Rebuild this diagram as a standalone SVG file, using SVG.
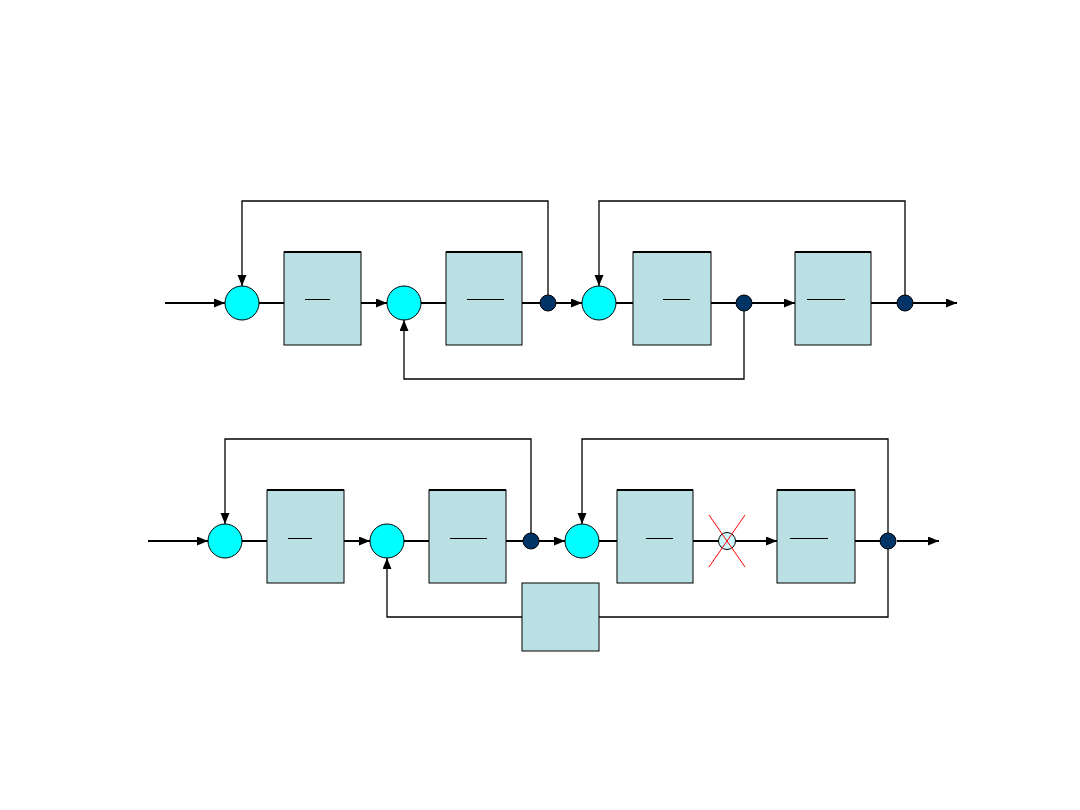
<svg xmlns="http://www.w3.org/2000/svg" width="1080" height="810" viewBox="0 0 1080 810">
<style>
.main{stroke:#000;stroke-width:2;fill:none}
.fb{stroke:#000;stroke-width:1.3;fill:none}
.blk{fill:#bbe0e3;stroke:#000;stroke-width:1}
.top{stroke:#000;stroke-width:2.2}
.frac{stroke:#000;stroke-width:1}
.sum{fill:#00ffff;stroke:#000;stroke-width:1}
.dot{fill:#003366;stroke:#000;stroke-width:1}
</style>
<defs>
<marker id="arr" markerUnits="userSpaceOnUse" markerWidth="12" markerHeight="10" refX="11" refY="4.5" orient="auto">
<path d="M0,0 L11,4.5 L0,9 z" fill="#000"/>
</marker>
</defs>
<rect width="1080" height="810" fill="#fff"/>
<g id="connectors">
<line class="main" x1="165" y1="303" x2="225" y2="303" marker-end="url(#arr)"/>
<line class="main" x1="259" y1="303" x2="284" y2="303"/>
<line class="main" x1="361" y1="303" x2="387" y2="303" marker-end="url(#arr)"/>
<line class="main" x1="421" y1="303" x2="446" y2="303"/>
<line class="main" x1="522" y1="303" x2="540" y2="303"/>
<line class="main" x1="556" y1="303" x2="582" y2="303" marker-end="url(#arr)"/>
<line class="main" x1="616" y1="303" x2="633" y2="303"/>
<line class="main" x1="711" y1="303" x2="736" y2="303"/>
<line class="main" x1="752" y1="303" x2="795" y2="303" marker-end="url(#arr)"/>
<line class="main" x1="871" y1="303" x2="897" y2="303"/>
<line class="main" x1="913" y1="303" x2="957" y2="303" marker-end="url(#arr)"/>
<polyline class="fb" points="548,295 548,201 242,201 242,286" marker-end="url(#arr)"/>
<polyline class="fb" points="905,295 905,201 599,201 599,286" marker-end="url(#arr)"/>
<polyline class="fb" points="744,311 744,379 404,379 404,320" marker-end="url(#arr)"/>
<line class="main" x1="148" y1="541" x2="208" y2="541" marker-end="url(#arr)"/>
<line class="main" x1="242" y1="541" x2="267" y2="541"/>
<line class="main" x1="344" y1="541" x2="370" y2="541" marker-end="url(#arr)"/>
<line class="main" x1="404" y1="541" x2="429" y2="541"/>
<line class="main" x1="506" y1="541" x2="523" y2="541"/>
<line class="main" x1="539" y1="541" x2="565" y2="541" marker-end="url(#arr)"/>
<line class="main" x1="599" y1="541" x2="617" y2="541"/>
<line class="main" x1="693" y1="541" x2="719" y2="541"/>
<line class="main" x1="735" y1="541" x2="777" y2="541" marker-end="url(#arr)"/>
<line class="main" x1="855" y1="541" x2="881" y2="541"/>
<line class="main" x1="897" y1="541" x2="939" y2="541" marker-end="url(#arr)"/>
<polyline class="fb" points="531,533 531,439 225,439 225,524" marker-end="url(#arr)"/>
<polyline class="fb" points="888,533 888,439 582,439 582,524" marker-end="url(#arr)"/>
<polyline class="fb" points="888,549 888,617 599,617"/>
<polyline class="fb" points="522,617 387,617 387,558" marker-end="url(#arr)"/>
</g>
<g id="sum1"><circle class="sum" cx="242" cy="303" r="17"/></g>
<g id="block1"><rect class="blk" x="284" y="252" width="77" height="93"/><line class="top" x1="284" y1="252" x2="361" y2="252"/><line class="frac" x1="305" y1="299.5" x2="330" y2="299.5"/></g>
<g id="sum2"><circle class="sum" cx="404" cy="303" r="17"/></g>
<g id="block2"><rect class="blk" x="446" y="252" width="76" height="93"/><line class="top" x1="446" y1="252" x2="522" y2="252"/><line class="frac" x1="467" y1="299.5" x2="504" y2="299.5"/></g>
<g id="dot1"><circle class="dot" cx="548" cy="303" r="8"/></g>
<g id="sum3"><circle class="sum" cx="599" cy="303" r="17"/></g>
<g id="block3"><rect class="blk" x="633" y="252" width="78" height="93"/><line class="top" x1="633" y1="252" x2="711" y2="252"/><line class="frac" x1="663" y1="299.5" x2="690" y2="299.5"/></g>
<g id="dot2"><circle class="dot" cx="744" cy="303" r="8"/></g>
<g id="block4"><rect class="blk" x="795" y="252" width="76" height="93"/><line class="top" x1="795" y1="252" x2="871" y2="252"/><line class="frac" x1="807" y1="299.5" x2="845" y2="299.5"/></g>
<g id="dot3"><circle class="dot" cx="905" cy="303" r="8"/></g>
<g id="sum4"><circle class="sum" cx="225" cy="541" r="17"/></g>
<g id="block5"><rect class="blk" x="267" y="490" width="77" height="93"/><line class="top" x1="267" y1="490" x2="344" y2="490"/><line class="frac" x1="288" y1="538.5" x2="312" y2="538.5"/></g>
<g id="sum5"><circle class="sum" cx="387" cy="541" r="17"/></g>
<g id="block6"><rect class="blk" x="429" y="490" width="77" height="93"/><line class="top" x1="429" y1="490" x2="506" y2="490"/><line class="frac" x1="450" y1="538.5" x2="487" y2="538.5"/></g>
<g id="dot4"><circle class="dot" cx="531" cy="541" r="8"/></g>
<g id="sum6"><circle class="sum" cx="582" cy="541" r="17"/></g>
<g id="block7"><rect class="blk" x="617" y="490" width="76" height="93"/><line class="top" x1="617" y1="490" x2="693" y2="490"/><line class="frac" x1="646" y1="538.5" x2="673" y2="538.5"/></g>
<g id="cut"><circle cx="727" cy="541" r="8.5" fill="#ccffff" stroke="#000" stroke-width="1"/><line x1="709" y1="515" x2="745" y2="567" stroke="#ff0000" stroke-width="1"/><line x1="745" y1="515" x2="709" y2="567" stroke="#ff0000" stroke-width="1"/></g>
<g id="block8"><rect class="blk" x="777" y="490" width="78" height="93"/><line class="top" x1="777" y1="490" x2="855" y2="490"/><line class="frac" x1="790" y1="538.5" x2="828" y2="538.5"/></g>
<g id="dot5"><circle class="dot" cx="888" cy="541" r="8"/></g>
<g id="block9"><rect class="blk" x="522" y="583" width="77" height="68"/></g>
</svg>
